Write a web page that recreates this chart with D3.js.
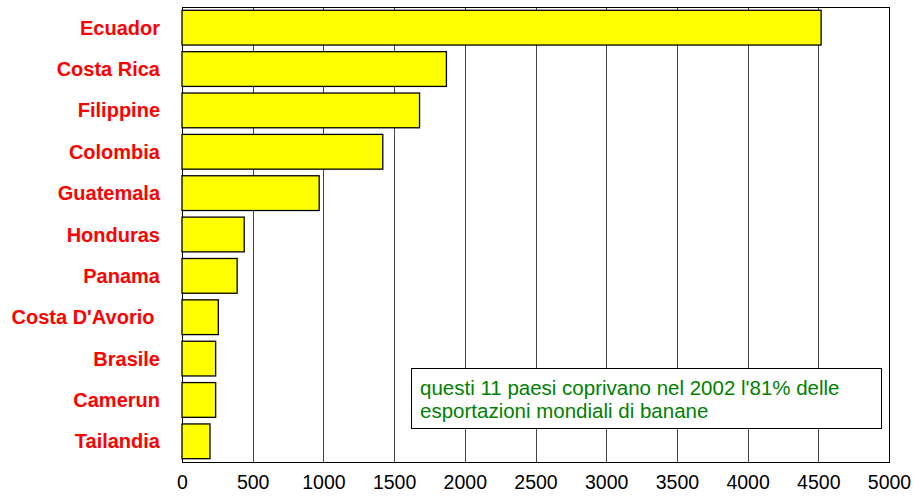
<!DOCTYPE html>
<html>
<head>
<meta charset="utf-8">
<script src="https://cdn.jsdelivr.net/npm/d3@7"></script>
<style>
  body { margin: 0; background: #fff; }
  svg { display: block; font-family: 'Liberation Sans', Arial, sans-serif; }
</style>
</head>
<body>
<div id="view"></div>
<script>
'use strict';

const countries = ['Ecuador', 'Costa Rica', 'Filippine', 'Colombia', 'Guatemala', 'Honduras',
  'Panama', "Costa D'Avorio ", 'Brasile', 'Camerun', 'Tailandia'];
const exportsValues = [4520, 1870, 1680, 1420, 970, 440, 390, 257, 238, 238, 198];
const xTicks = [0, 500, 1000, 1500, 2000, 2500, 3000, 3500, 4000, 4500, 5000];
const noteLines = ["questi 11 paesi coprivano nel 2002 l'81% delle", 'esportazioni mondiali di banane'];

const size = { w: 914, h: 497 };
const plot = { x0: 182, x1: 889, y0: 7, y1: 462 };

const presentation = {
  fill_bar: '#FFFF00',
  stroke_bar: '#000000',
  stroke_grid: '#444444',
  fill_label: '#FF0000',
  fill_note: '#008000'
};

const svg = d3.select('#view').append('svg')
  .attr('width', size.w)
  .attr('height', size.h);

const x = d3.scaleLinear().domain([0, 5000]).range([plot.x0, plot.x1]);
const y = d3.scaleBand().domain(countries).range([plot.y0, plot.y1])
  .paddingInner(0.16).paddingOuter(0.08);

// vertical grid lines
svg.append('g')
  .selectAll('line')
  .data(xTicks.slice(1, -1))
  .enter()
  .append('line')
  .attr('x1', d => Math.round(x(d)) + 0.5)
  .attr('x2', d => Math.round(x(d)) + 0.5)
  .attr('y1', plot.y0)
  .attr('y2', plot.y1)
  .attr('stroke', presentation.stroke_grid)
  .attr('stroke-width', 1);

// plot frame
svg.append('rect')
  .attr('x', plot.x0 + 0.5)
  .attr('y', plot.y0 + 0.5)
  .attr('width', plot.x1 - plot.x0)
  .attr('height', plot.y1 - plot.y0)
  .attr('fill', 'none')
  .attr('stroke', '#000')
  .attr('stroke-width', 1);

// bars
svg.append('g')
  .selectAll('rect')
  .data(countries)
  .enter()
  .append('rect')
  .attr('x', x(0))
  .attr('y', d => y(d))
  .attr('width', (d, i) => x(exportsValues[i]) - x(0))
  .attr('height', y.bandwidth())
  .attr('fill', presentation.fill_bar)
  .attr('stroke', presentation.stroke_bar)
  .attr('stroke-width', 1.3);

// category labels
svg.append('g')
  .selectAll('text')
  .data(countries)
  .enter()
  .append('text')
  .attr('x', 160)
  .attr('y', d => y(d) + y.bandwidth() / 2)
  .attr('dy', '0.35em')
  .attr('text-anchor', 'end')
  .attr('fill', presentation.fill_label)
  .attr('font-weight', 'bold')
  .attr('font-size', 20)
  .style('white-space', 'pre')
  .text(d => d);

// x axis
const xAxis = d3.axisBottom(x)
  .tickValues(xTicks)
  .tickSize(0)
  .tickPadding(13)
  .tickFormat(d3.format('d'));

const gAxis = svg.append('g')
  .attr('transform', `translate(0,${plot.y1})`)
  .call(xAxis);
gAxis.select('.domain').remove();
gAxis.selectAll('text')
  .attr('font-size', 19.5)
  .attr('font-family', "'Liberation Sans', Arial, sans-serif")
  .attr('fill', '#000');

// note box
const note = { x: 411, y: 368, w: 470, h: 60 };
svg.append('rect')
  .attr('x', note.x + 0.5)
  .attr('y', note.y + 0.5)
  .attr('width', note.w)
  .attr('height', note.h)
  .attr('fill', '#fff')
  .attr('stroke', '#000')
  .attr('stroke-width', 1);

svg.append('g')
  .selectAll('text')
  .data(noteLines)
  .enter()
  .append('text')
  .attr('x', note.x + 9)
  .attr('y', (d, i) => note.y + 27 + i * 23)
  .attr('fill', presentation.fill_note)
  .attr('font-size', 20.5)
  .text(d => d);
</script>
</body>
</html>
